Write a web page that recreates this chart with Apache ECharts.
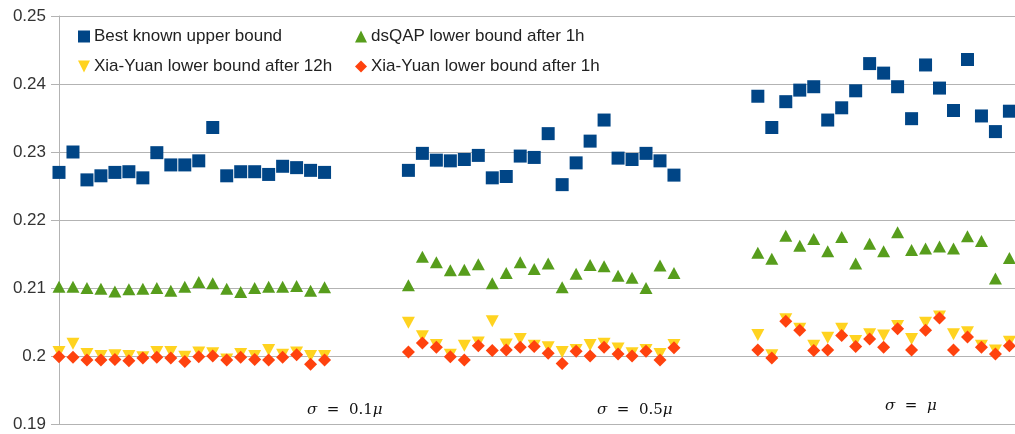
<!DOCTYPE html>
<html>
<head>
<meta charset="utf-8">
<script src="https://cdn.jsdelivr.net/npm/echarts@6/dist/echarts.min.js"></script>
<style>
html,body{margin:0;padding:0;background:#fff;}
#chart{width:1015px;height:434px;}
</style>
</head>
<body>
<div id="chart"></div>
<script>
// ---- data (three groups of instances, separated by gaps) ----
var groupLabels = ['σ = 0.1μ', 'σ = 0.5μ', 'σ = μ'];
var gapSlots = 5;
var seriesNames = ['Best known upper bound', 'dsQAP lower bound after 1h', 'Xia-Yuan lower bound after 12h', 'Xia-Yuan lower bound after 1h'];
var yTicks = [0.19, 0.20, 0.21, 0.22, 0.23, 0.24, 0.25];

var upperG1 = [0.2270,0.2300,0.2259,0.2265,0.2270,0.2271,0.2262,0.2299,0.2281,0.2281,0.2287,0.2336,0.2265,0.2271,0.2271,0.2267,0.2279,0.2277,0.2273,0.2270];
var upperG2 = [0.2273,0.2298,0.2288,0.2287,0.2289,0.2295,0.2262,0.2264,0.2294,0.2292,0.2327,0.2252,0.2284,0.2316,0.2347,0.2291,0.2289,0.2298,0.2287,0.2266];
var upperG3 = [0.2382,0.2336,0.2374,0.2391,0.2396,0.2347,0.2365,0.2390,0.2430,0.2416,0.2396,0.2349,0.2428,0.2394,0.2361,0.2436,0.2353,0.2330,0.2360];

var dsqapG1 = [0.2102,0.2102,0.2100,0.2099,0.2095,0.2098,0.2099,0.2100,0.2096,0.2102,0.2109,0.2107,0.2099,0.2094,0.2100,0.2102,0.2102,0.2103,0.2096,0.2101];
var dsqapG2 = [0.2104,0.2146,0.2138,0.2126,0.2127,0.2135,0.2107,0.2122,0.2138,0.2128,0.2136,0.2101,0.2121,0.2134,0.2132,0.2118,0.2115,0.2100,0.2133,0.2122];
var dsqapG3 = [0.2152,0.2143,0.2177,0.2162,0.2172,0.2154,0.2175,0.2136,0.2165,0.2154,0.2182,0.2156,0.2158,0.2161,0.2158,0.2176,0.2169,0.2114,0.2144];

var xy12G1 = [0.2006,0.2018,0.2003,0.2000,0.2001,0.2000,0.1998,0.2006,0.2006,0.1999,0.2005,0.2004,0.1995,0.2003,0.2000,0.2009,0.2002,0.2005,0.2000,0.2000];
var xy12G2 = [0.2049,0.2029,0.2016,0.2002,0.2015,0.2020,0.2051,0.2017,0.2025,0.2015,0.2013,0.2006,0.2009,0.2016,0.2018,0.2011,0.2004,0.2009,0.2003,0.2016];
var xy12G3 = [0.2031,0.2001,0.2054,0.2040,0.2015,0.2027,0.2040,0.2022,0.2032,0.2030,0.2044,0.2025,0.2049,0.2058,0.2032,0.2035,0.2015,0.2008,0.2021];

var xy1G1 = [0.1999,0.1998,0.1994,0.1994,0.1995,0.1993,0.1997,0.1998,0.1997,0.1992,0.1999,0.2000,0.1994,0.1998,0.1995,0.1994,0.1998,0.2002,0.1988,0.1994];
var xy1G2 = [0.2006,0.2019,0.2013,0.1999,0.1994,0.2015,0.2008,0.2009,0.2013,0.2014,0.2004,0.1989,0.2007,0.2000,0.2013,0.2003,0.2000,0.2007,0.1994,0.2012];
var xy1G3 = [0.2009,0.1997,0.2051,0.2038,0.2008,0.2009,0.2030,0.2014,0.2025,0.2013,0.2040,0.2009,0.2038,0.2056,0.2009,0.2028,0.2013,0.2003,0.2015];

// ---- build [slot, value] pairs ----
function build(groups) {
  var out = [];
  var slot = 0;
  groups.forEach(function (g) {
    g.forEach(function (v) { out.push([slot, v]); slot++; });
    slot += gapSlots;
  });
  return out;
}
var upperData = build([upperG1, upperG2, upperG3]);
var dsqapData = build([dsqapG1, dsqapG2, dsqapG3]);
var xy12Data = build([xy12G1, xy12G2, xy12G3]);
var xy1Data = build([xy1G1, xy1G2, xy1G3]);

var colors = ['#004586', '#579d1c', '#ffd320', '#ff420e'];
var downTri = 'path://M0,0 L10,0 L5,10 Z';

var chart = echarts.init(document.getElementById('chart'), null, {renderer: 'canvas'});
var labelFont = 'Liberation Sans, Arial, sans-serif';

function sigmaText(str) {
  var parts = str.split(/(σ|μ)/).filter(function (s) { return s.length; });
  return parts.map(function (p) {
    return (p === 'σ' || p === 'μ') ? '{i|' + p + '}' : '{n|' + p.replace(/ /g, '  ') + '}';
  }).join('');
}
var rich = {
  i: {fontFamily: 'DejaVu Serif, serif', fontStyle: 'italic', fontSize: 15, fill: '#111'},
  n: {fontFamily: 'DejaVu Serif, serif', fontSize: 15, fill: '#111'}
};

var legendText = {fontSize: 17, color: '#222', fontFamily: labelFont, padding: [0, 0, 0, -1]};

chart.setOption({
  animation: false,
  backgroundColor: '#fff',
  color: colors,
  grid: {left: 59, right: 0, top: 16, bottom: 10, containLabel: false},
  xAxis: {
    type: 'value', min: 0, max: 68.4,
    axisLine: {show: true, lineStyle: {color: '#b3b3b3', width: 1}},
    axisTick: {show: false}, axisLabel: {show: false}, splitLine: {show: false}
  },
  yAxis: {
    type: 'value', min: yTicks[0], max: yTicks[yTicks.length - 1], interval: 0.01,
    axisLine: {show: true, lineStyle: {color: '#b3b3b3', width: 1}},
    axisTick: {show: true, inside: false, length: 8, lineStyle: {color: '#b3b3b3'}},
    axisLabel: {
      margin: 13, color: '#333', fontSize: 17, fontFamily: labelFont,
      formatter: function (v) { return (Math.round(v * 100) / 100).toString(); }
    },
    splitLine: {show: true, lineStyle: {color: '#b3b3b3', width: 1}}
  },
  legend: [
    {
      orient: 'vertical', left: 78, top: 28, padding: 0, itemGap: 13, itemWidth: 12, itemHeight: 12,
      textStyle: legendText,
      data: [{name: seriesNames[0], icon: 'rect'}, {name: seriesNames[2], icon: downTri}]
    },
    {
      orient: 'vertical', left: 355, top: 28, padding: 0, itemGap: 13, itemWidth: 12, itemHeight: 12,
      textStyle: legendText,
      data: [{name: seriesNames[1], icon: 'triangle'}, {name: seriesNames[3], icon: 'diamond'}]
    }
  ],
  graphic: [
    {type: 'text', left: 307, top: 403, style: {text: sigmaText(groupLabels[0]), rich: rich}},
    {type: 'text', left: 597, top: 403, style: {text: sigmaText(groupLabels[1]), rich: rich}},
    {type: 'text', left: 885, top: 399, style: {text: sigmaText(groupLabels[2]), rich: rich}}
  ],
  series: [
    {name: seriesNames[0], type: 'scatter', symbol: 'rect', symbolSize: 13, data: upperData,
     itemStyle: {color: colors[0], opacity: 1}},
    {name: seriesNames[1], type: 'scatter', symbol: 'triangle', symbolSize: [13, 12], data: dsqapData,
     itemStyle: {color: colors[1], opacity: 1}},
    {name: seriesNames[2], type: 'scatter', symbol: downTri, symbolSize: [13, 12], data: xy12Data,
     itemStyle: {color: colors[2], opacity: 1}},
    {name: seriesNames[3], type: 'scatter', symbol: 'diamond', symbolSize: [13, 13], data: xy1Data,
     itemStyle: {color: colors[3], opacity: 1}}
  ]
});
</script>
</body>
</html>
